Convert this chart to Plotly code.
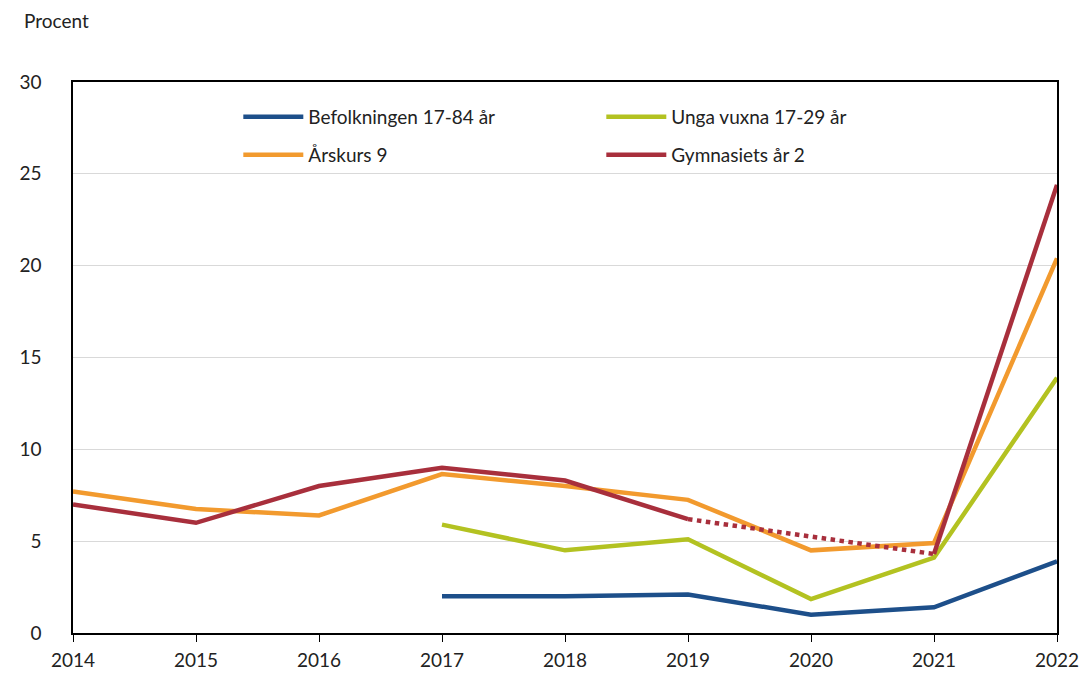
import plotly.graph_objects as go

years = [2014, 2015, 2016, 2017, 2018, 2019, 2020, 2021, 2022]

befolkningen = [None, None, None, 2.0, 2.0, 2.1, 1.0, 1.4, 3.9]
unga_vuxna = [None, None, None, 5.9, 4.5, 5.1, 1.85, 4.1, 13.9]
arskurs9 = [7.7, 6.75, 6.4, 8.65, 8.0, 7.25, 4.5, 4.9, 20.4]
gymnasiet = [7.0, 6.0, 8.0, 9.0, 8.3, 6.2, None, 4.3, 24.4]

# (name, values, colour, legend row)
series = [
    ("Befolkningen 17-84 år", befolkningen, "#1d4f8a", "legend"),
    ("Unga vuxna 17-29 år", unga_vuxna, "#b3c221", "legend"),
    ("Årskurs 9", arskurs9, "#f29a2e", "legend2"),
    ("Gymnasiets år 2", gymnasiet, "#a82f3c", "legend2"),
]

FONT = "Lato"
TEXT = "#222222"
LW = 4.5

fig = go.Figure()
for name, vals, color, leg in series:
    fig.add_trace(go.Scatter(
        x=years, y=vals, name=name, mode="lines",
        line=dict(color=color, width=LW),
        connectgaps=False, legend=leg,
    ))

# dotted bridge over the missing 2020 value for Gymnasiets år 2
i0, i1 = years.index(2019), years.index(2021)
fig.add_trace(go.Scatter(
    x=[years[i0], years[i1]], y=[gymnasiet[i0], gymnasiet[i1]],
    mode="lines", showlegend=False, hoverinfo="skip",
    line=dict(color="#a82f3c", width=LW, dash="dot"),
))

legend_common = dict(
    orientation="h", x=0.168, xanchor="left", yanchor="middle",
    entrywidth=288, entrywidthmode="pixels", traceorder="normal",
    font=dict(family=FONT, size=19, color=TEXT),
    bgcolor="rgba(255,255,255,0)", itemwidth=60,
)

fig.update_layout(
    width=1087, height=674,
    margin=dict(l=73, r=30, t=82, b=41),
    paper_bgcolor="white", plot_bgcolor="white",
    font=dict(family=FONT, size=19, color=TEXT),
    showlegend=True,
    legend=dict(legend_common, y=0.9365),
    legend2=dict(legend_common, y=0.8675),
    annotations=[dict(
        text="Procent", xref="paper", yref="paper",
        x=-0.0518, y=1.112, xanchor="left", yanchor="middle",
        showarrow=False, font=dict(family=FONT, size=19, color=TEXT),
    )],
)

fig.update_xaxes(
    range=[2014, 2022], tickmode="array", tickvals=years,
    ticktext=[str(y) for y in years], automargin=False,
    showgrid=False, showline=True, linecolor="black", linewidth=1.5,
    mirror=True, ticks="outside", ticklen=7, tickcolor="black",
    ticklabelstandoff=2,
    tickfont=dict(family=FONT, size=19, color=TEXT), zeroline=False,
)
fig.update_yaxes(
    range=[0, 30], tickvals=[0, 5, 10, 15, 20, 25, 30], automargin=False,
    showgrid=True, gridcolor="#d9d9d9", gridwidth=1,
    showline=True, linecolor="black", linewidth=1.5, mirror=True,
    ticks="", ticklabelstandoff=26,
    tickfont=dict(family=FONT, size=19, color=TEXT), zeroline=False,
)

fig.write_html("out.html")
